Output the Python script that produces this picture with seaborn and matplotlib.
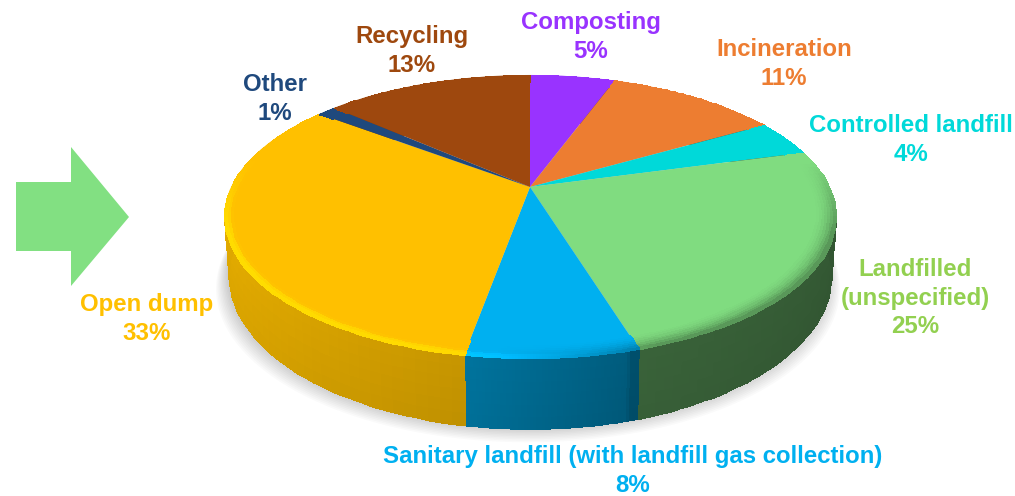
import matplotlib
matplotlib.use("Agg")
import matplotlib.pyplot as plt
from matplotlib.patches import Polygon
from matplotlib.transforms import Transform
import numpy as np
import seaborn as sns

# waste shares, clockwise from 12 o'clock
names = ["Composting", "Incineration", "Controlled landfill", "Landfilled\n(unspecified)",
         "Sanitary landfill (with landfill gas collection)", "Open dump", "Other", "Recycling"]
percent_labels = ["5%", "11%", "4%", "25%", "8%", "33%", "1%", "13%"]
# slice sizes, the labels are rounded
shares = [5.5, 11.1, 4.1, 24.6, 7.5, 32.6, 1.2, 13.4]
top_colors = ["#9933FF", "#ED7D31", "#00D9D9", "#80DC80", "#00B0F0", "#FFC000", "#1F497D", "#9E480E"]
text_colors = ["#9933FF", "#ED7D31", "#00D9D9", "#92D050", "#00B0F0", "#FFC000", "#1F497D", "#9E480E"]
label_pos = [(591, 37), (784, 64), (911, 140), (915, 298), (633, 471), (147, 319), (275, 99), (412, 51)]

CX, CY = 530, 187
A, B, K = 299, 135.4, 0.2085
DEPTH = 56


def tilt(u, v):
    den = 1 + K * v
    return CX + A * u / den, CY - B * v / den


class Tilt(Transform):
    input_dims = 2
    output_dims = 2

    def transform_non_affine(self, values):
        x, y = tilt(values[:, 0], values[:, 1])
        return np.column_stack([x, y])


def side_xy(th):
    u, v = np.cos(th), np.sin(th)
    x, y = tilt(u, v)
    d = DEPTH / (1 + K * v)
    return x, y, CX + (x - CX) * 0.985, y + d


sns.set_theme(style="white")
plt.rcParams["font.family"] = ["Liberation Sans", "DejaVu Sans"]
palette = sns.color_palette(top_colors)

fig, ax = plt.subplots(figsize=(10.15, 4.96), dpi=100)
fig.subplots_adjust(0, 0, 1, 1)

wedges, _ = ax.pie(shares, colors=palette, startangle=90, counterclock=False)
ax.set_aspect("auto")
ax.set_xlim(0, 1015)
ax.set_ylim(496, 0)
for w in wedges:
    w.set_transform(Tilt() + ax.transData)
    w.set_zorder(3)
    w.set_linewidth(0)

# soft shadow under the disc
th = np.linspace(0, 2 * np.pi, 300)
_, _, bx, by = side_xy(th)
for i in range(10):
    g = 1 + 0.004 * i
    ax.fill(CX + (bx - CX) * g - 2, by + 1.5 * i, color="#000000", alpha=0.02, lw=0, zorder=1)

# side wall and rim bevel, one mesh per slice
for w, col in zip(wedges, palette):
    base = np.array(col)
    th = np.radians(np.linspace(w.theta1, w.theta2, 60))
    mid = (th[:-1] + th[1:]) / 2
    x0, y0, x1, y1 = side_xy(th)
    frac = np.linspace(0, 1, 7)
    X = np.outer(1 - frac, x0) + np.outer(frac, x1)
    Y = np.outer(1 - frac, y0) + np.outer(frac, y1)
    shade = np.interp(np.cos(mid), [-1, -0.19, -0.18, 0.26, 0.27, 1], [0.9, 0.78, 0.66, 0.52, 0.45, 0.4])
    C = base[None, None, :] * shade[None, :, None] * (1 - 0.04 * frac[:-1])[:, None, None]
    ax.pcolormesh(X, Y, np.clip(C, 0, 1), shading="flat", edgecolors="face", linewidth=0.4, zorder=2)

    # bevel on the top face near the rim
    r = np.linspace(0.93, 1, 9)
    U = np.outer(r, np.cos(th))
    V = np.outer(r, np.sin(th))
    RX, RY = tilt(U, V)
    rm = (r[:-1] + r[1:]) / 2
    fade = np.clip((0.2 - np.sin(mid)) / 0.5, 0, 1)
    lit = np.interp(np.cos(mid), [-1, -0.2, 0.3, 1], [0.16, 0.14, 0, 0]) * fade
    dark = np.interp(np.cos(mid), [-0.1, 0.35, 1], [0, 0.35, 0.35]) * fade
    t = (rm - 0.93) / 0.07
    glow = np.exp(-((rm - 0.993) / 0.01) ** 2)
    C = base[None, None, :] * (1 + np.outer(glow, lit) - np.outer(t ** 2, dark))[:, :, None]
    ax.pcolormesh(RX, RY, np.clip(C, 0, 1), shading="flat", edgecolors="face", linewidth=0.4, zorder=4)

# arrow on the left
ax.add_patch(Polygon([(16, 182), (71, 182), (71, 147), (129, 217), (71, 286), (71, 251), (16, 251)],
                     closed=True, facecolor="#82E082", edgecolor="none", zorder=2))

for name, pct, col, (lx, ly) in zip(names, percent_labels, text_colors, label_pos):
    ax.text(lx, ly, f"{name}\n{pct}", color=col, ha="center", va="center", fontsize=17.3,
            fontweight="bold", linespacing=1.29, zorder=6)

ax.set_axis_off()
fig.savefig("out.png", dpi=100)
